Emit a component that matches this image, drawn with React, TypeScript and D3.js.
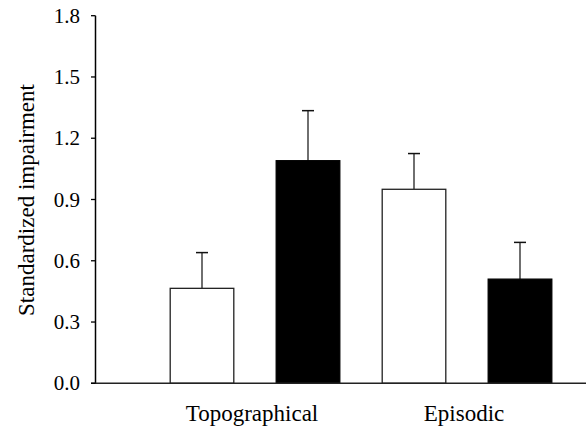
import React from "react";
import * as d3 from "d3";

const categories = ["Topographical", "Episodic"];
const series = ["white", "black"];
const means = [
  [0.465, 1.09],
  [0.95, 0.51],
];
const errors = [
  [0.175, 0.245],
  [0.175, 0.18],
];
const yTicks = [0, 0.3, 0.6, 0.9, 1.2, 1.5, 1.8];

const width = 586;
const height = 427;
const axisX = 95.5;
const y0 = 383.3;
const yTop = 15.7;

const App = () => {
  const yScale = d3.scaleLinear().domain([0, 1.8]).range([y0, yTop]);

  const xGroup = d3.scaleBand().domain(categories).range([149, 573]).padding(0);

  const xInner = d3
    .scaleBand()
    .domain(series)
    .range([0, xGroup.bandwidth()])
    .paddingInner(0.4)
    .paddingOuter(0.2);

  return (
    <svg
      width={width}
      height={height}
      style={{ position: "absolute", left: 0, top: 0, background: "#fff" }}
    >
      <style>{`text { font-family: "Liberation Serif", "Times New Roman", serif; }`}</style>
      {categories.map((cat, gi) => (
        <g key={cat} transform={`translate(${xGroup(cat)},0)`}>
          {series.map((s, si) => {
            const x = xInner(s)!;
            const w = xInner.bandwidth();
            const v = means[gi][si];
            const e = errors[gi][si];
            const cx = x + w / 2;
            return (
              <g key={s}>
                <line
                  x1={cx}
                  x2={cx}
                  y1={yScale(v)}
                  y2={yScale(v + e)}
                  stroke="#222"
                  strokeWidth={1.3}
                />
                <line
                  x1={cx - 6}
                  x2={cx + 6}
                  y1={yScale(v + e)}
                  y2={yScale(v + e)}
                  stroke="#111"
                  strokeWidth={1.5}
                />
                <rect
                  x={x}
                  y={yScale(v)}
                  width={w}
                  height={y0 - yScale(v)}
                  fill={s === "black" ? "#000" : "#fff"}
                  stroke={s === "black" ? "#000" : "#222"}
                  strokeWidth={1.3}
                />
              </g>
            );
          })}
        </g>
      ))}

      {categories.map((cat) => (
        <text
          key={cat}
          x={xGroup(cat)! + xGroup.bandwidth() / 2 - 3}
          y={421}
          textAnchor="middle"
          fontSize={23}
        >
          {cat}
        </text>
      ))}

      {/* y axis */}
      <line x1={axisX} x2={axisX} y1={yTop} y2={y0} stroke="#000" strokeWidth={1.5} />
      <line x1={91} x2={586} y1={y0} y2={y0} stroke="#222" strokeWidth={1.5} />
      {yTicks.map((t) => (
        <line key={t} x1={91} x2={axisX} y1={yScale(t)} y2={yScale(t)} stroke="#000" strokeWidth={1.3} />
      ))}
      {yTicks.map((t) => (
        <text key={t} x={80} y={yScale(t) + 7} textAnchor="end" fontSize={21}>
          {t.toFixed(1)}
        </text>
      ))}
      <text
        transform={`translate(34,200) rotate(-90)`}
        textAnchor="middle"
        fontSize={23}
      >
        Standardized impairment
      </text>
    </svg>
  );
};

export default App;
